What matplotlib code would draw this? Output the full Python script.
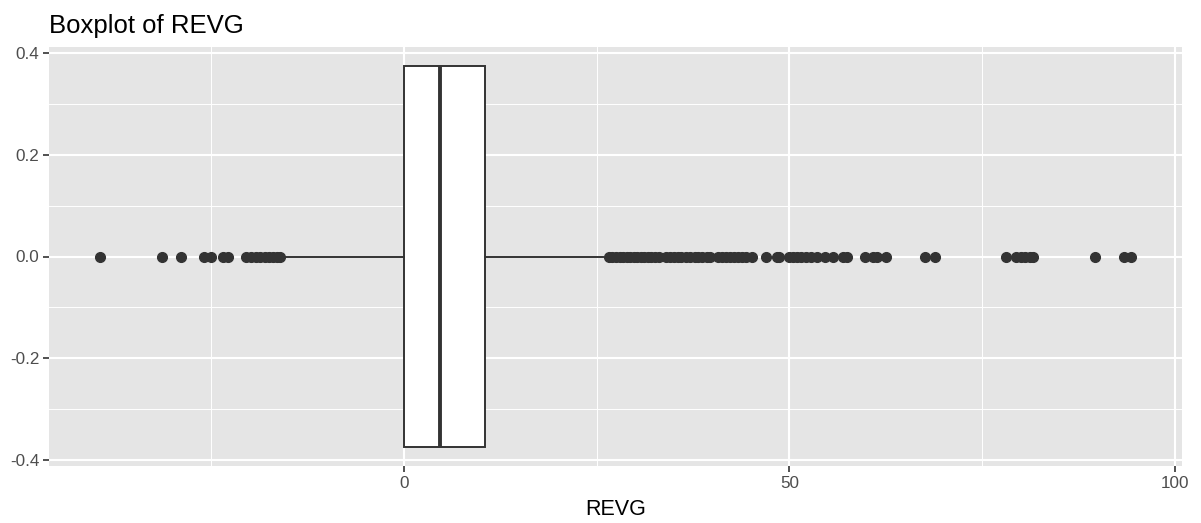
import matplotlib
matplotlib.use('Agg')
import matplotlib.pyplot as plt
from matplotlib.ticker import MultipleLocator

plt.rcParams['font.family'] = ['Liberation Sans', 'DejaVu Sans']

# box summary of REVG
q1 = 0.1
median = 4.7
q3 = 10.6
whisker_low = -15.4
whisker_high = 25.8

# outliers
low_outliers = [-39.3, -31.3, -28.9, -25.9, -25.0, -23.4, -22.8, -20.4, -19.8,
                -19.2, -18.6, -18.0, -17.5, -17.0, -16.4, -16.0]
high_outliers = [26.6, 27.0, 27.5, 28.0, 28.4, 28.9, 29.3, 29.8, 30.3, 30.7, 31.2,
                 31.6, 32.1, 32.6, 33.1, 34.0, 34.5, 35.0, 35.5, 36.0, 36.6, 37.1,
                 37.7, 38.2, 38.7, 39.3, 39.7, 40.7, 41.2, 41.8, 42.3, 42.8, 43.3,
                 43.8, 44.3, 45.2, 47.0, 48.4, 48.7, 50.0, 50.5, 51.0, 51.5, 52.1,
                 52.8, 53.6, 54.6, 55.6, 56.9, 57.4, 59.8, 60.8, 61.3, 62.5, 67.6,
                 68.9, 78.0, 79.4, 80.0, 80.5, 81.2, 81.6, 89.6, 93.3, 94.2]

x_ticks = [0, 50, 100]
y_ticks = [-0.4, -0.2, 0.0, 0.2, 0.4]

stats = [{'q1': q1, 'med': median, 'q3': q3, 'whislo': whisker_low,
          'whishi': whisker_high, 'fliers': low_outliers + high_outliers}]

fig = plt.figure(figsize=(12.01, 5.23), dpi=100)
ax = fig.add_axes([49 / 1201, 1 - 466.4 / 523, (1182 - 49) / 1201, (466.4 - 46.6) / 523])
ax.set_facecolor('#E5E5E5')

dark = '#333333'
ax.bxp(stats, positions=[0], widths=0.75, vert=False, showcaps=False,
       patch_artist=True,
       boxprops=dict(facecolor='white', edgecolor=dark, linewidth=1.4),
       medianprops=dict(color=dark, linewidth=2.8),
       whiskerprops=dict(color=dark, linewidth=1.4),
       flierprops=dict(marker='o', markerfacecolor=dark, markeredgecolor=dark,
                       markersize=7, linestyle='none'),
       zorder=3)

data_min = min(low_outliers)
data_max = max(high_outliers)
pad = (data_max - data_min) * 0.05
ax.set_xlim(data_min - pad, data_max + pad)
ax.set_ylim(-0.4125, 0.4125)

ax.set_xticks(x_ticks)
ax.set_yticks(y_ticks)
ax.set_yticklabels(['%.1f' % v for v in y_ticks])
ax.xaxis.set_minor_locator(MultipleLocator(25))
ax.yaxis.set_minor_locator(MultipleLocator(0.1))

ax.grid(which='major', color='white', linewidth=1.5, zorder=0)
ax.grid(which='minor', color='white', linewidth=0.7, zorder=0)
ax.set_axisbelow(True)
for s in ax.spines.values():
    s.set_visible(False)

ax.tick_params(which='major', length=4, width=1.2, color=dark, labelcolor='#4D4D4D',
               labelsize=12.3, pad=3)
ax.tick_params(which='minor', length=0)

ax.set_xlabel('REVG', fontsize=15.5, color='black', labelpad=6)
ax.set_title('Boxplot of REVG', fontsize=18.5, loc='left', pad=10, x=0.0)

fig.savefig('out.png', dpi=100)
